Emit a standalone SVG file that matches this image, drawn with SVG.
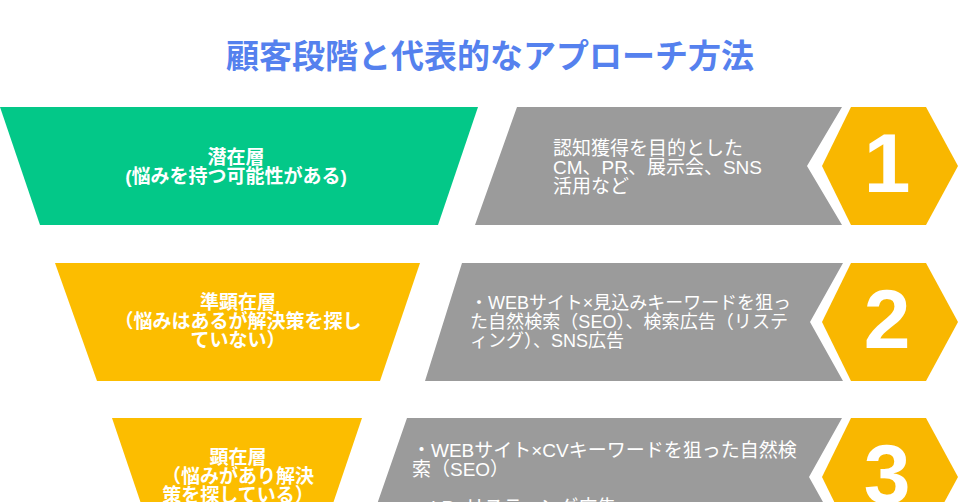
<svg xmlns="http://www.w3.org/2000/svg" width="960" height="502" viewBox="0 0 960 502">
<style>
.title{font-family:"Liberation Sans","Noto Sans CJK JP",sans-serif;font-size:33px;font-weight:bold;fill:#5581ee;text-anchor:middle}
.stage{font-family:"Liberation Sans","Noto Sans CJK JP",sans-serif;font-size:19px;font-weight:bold;fill:#ffffff;text-anchor:middle}
.desc{font-family:"Liberation Sans","Noto Sans CJK JP",sans-serif;font-size:19px;fill:#ffffff}
.desc2{font-size:18px}
.num{font-family:"Liberation Sans","Noto Sans",sans-serif;font-size:84px;font-weight:bold;fill:#ffffff;text-anchor:middle}
.gray{fill:#9b9b9b}
.hex{fill:#f9b700}
.green{fill:#03c888}
.yellow{fill:#fcbd00}
</style>
<rect width="960" height="502" fill="#ffffff"/>
<text class="title" x="490" y="68">顧客段階と代表的なアプローチ方法</text>

<g id="stage1">
<polygon class="green" points="0,107 478,107 438,225 40,225"/>
<text class="stage" x="236" y="164">潜在層</text>
<text class="stage" x="236" y="183">(悩みを持つ可能性がある)</text>
</g>
<g id="approach1">
<polygon class="gray" points="517,107 842,107 807,166 842,225 475,225"/>
<text class="desc" x="553" y="155">認知獲得を目的とした</text>
<text class="desc" x="553" y="174">CM、PR、展示会、SNS</text>
<text class="desc" x="553" y="193">活用など</text>
</g>
<g id="badge1">
<polygon class="hex" points="822,166 851,107 926,107 958,166 926,225 851,225"/>
<text class="num" x="887" y="192">1</text>
</g>

<g id="stage2">
<polygon class="yellow" points="55,263 420,263 380,381 97,381"/>
<text class="stage" x="238" y="309">準顕在層</text>
<text class="stage" x="238" y="328">（悩みはあるが解決策を探し</text>
<text class="stage" x="238" y="347">ていない）</text>
</g>
<g id="approach2">
<polygon class="gray" points="462,263 843,263 810,322 843,381 425,381"/>
<text class="desc desc2" x="470" y="309" textLength="321" lengthAdjust="spacingAndGlyphs">・WEBサイト×見込みキーワードを狙っ</text>
<text class="desc desc2" x="470" y="328" textLength="318" lengthAdjust="spacingAndGlyphs">た自然検索（SEO）、検索広告（リステ</text>
<text class="desc desc2" x="470" y="347">ィング）、SNS広告</text>
</g>
<g id="badge2">
<polygon class="hex" points="822,322 851,263 926,263 958,322 926,381 851,381"/>
<text class="num" x="887" y="348">2</text>
</g>

<g id="stage3">
<polygon class="yellow" points="112,418 362,418 322,536 152,536"/>
<text class="stage" x="238" y="464">顕在層</text>
<text class="stage" x="238" y="483">（悩みがあり解決</text>
<text class="stage" x="238" y="502">策を探している）</text>
</g>
<g id="approach3">
<polygon class="gray" points="407,418 842,418 809,477 842,536 366,536"/>
<text class="desc" x="412" y="457">・WEBサイト×CVキーワードを狙った自然検</text>
<text class="desc" x="412" y="476">索（SEO）</text>
<text class="desc" x="412" y="514">・LP×リスティング広告</text>
</g>
<g id="badge3">
<polygon class="hex" points="822,477 851,418 926,418 958,477 926,536 851,536"/>
<text class="num" x="887" y="503">3</text>
</g>
<g id="connectors"/>
</svg>
